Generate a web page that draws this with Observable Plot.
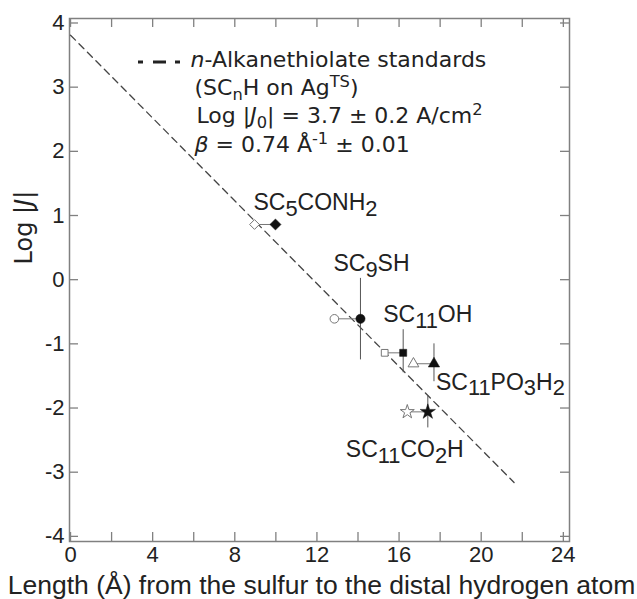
<!DOCTYPE html>
<html><head><meta charset="utf-8">
<script src="https://cdn.jsdelivr.net/npm/d3@7"></script>
<script src="https://cdn.jsdelivr.net/npm/@observablehq/plot@0.6"></script>
<style>
  html,body{margin:0;padding:0;background:#fff;}
  #chart svg{font-family:"Liberation Sans",Arial,Helvetica,sans-serif;background:#fff;}
</style>
</head><body><div id="chart"></div>
<script>
// ---------------- data ----------------
const compounds = ["SC5CONH2", "SC9SH", "SC11OH", "SC11PO3H2", "SC11CO2H"];
const compoundLabels = ["SC_5CONH_2", "SC_9SH", "SC_{11}OH", "SC_{11}PO_3H_2", "SC_{11}CO_2H"];
const lengthFilled = [9.98, 14.12, 16.2, 17.7, 17.4];   // Å (filled markers)
const lengthOpen = [8.96, 12.85, 15.3, 16.7, 16.4];     // Å (open markers)
const logJ = [0.86, -0.61, -1.14, -1.31, -2.06];
const logJLow = [0.86, -1.25, -1.45, -1.59, -2.31];
const logJHigh = [0.86, 0.02, -0.78, -1.0, -1.81];
const fitLength = [0, 21.6];
const fitLogJ = [3.81, -3.16];
const xTicks = [0, 2, 4, 6, 8, 10, 12, 14, 16, 18, 20, 22, 24];
const xTickLabels = [0, 4, 8, 12, 16, 20, 24];
const yTicks = [-4, -3, -2, -1, 0, 1, 2, 3, 4];
const legendLines = [
  "*n*-Alkanethiolate standards",
  "(SC_nH on Ag^{TS})",
  "Log |*J*_0| = 3.7 ± 0.2 A/cm^2",
  "*β* = 0.74 Å^{-1} ± 0.01"
];
const xLabel = "Length (Å) from the sulfur to the distal hydrogen atom";
const yLabel = "Log |*J*|";

// ---------------- style / layout ----------------
const W = 637, H = 599;
const M = {top: 18, right: 68, bottom: 58, left: 69};
const innerW = W - M.left - M.right, innerH = H - M.top - M.bottom;
const TICK = 9;
const frameColor = "#808080";
const legendFont = '"DejaVu Sans", "Liberation Sans", sans-serif';
const symbolsFilled = ["diamond2", "circle", "square", "triangle", "star"];
const rFilled = [5, 4.6, 4, 4.2, 4.8];
const rOpen = [4.4, 4.3, 3.8, 4.0, 4.4];
const labelDx = [-22, -27, -20, 2, -82];
const labelDy = [-14, -48, -31, 26, 45];
const legendDx = [121, 125, 127, 125];
const legendDy = [48, 76, 104, 133];

const idx = compounds.map((_, i) => i);

const marks = [
  Plot.frame({stroke: frameColor, strokeWidth: 1.5}),
  Plot.tickX(xTicks, {x: d => d, insetTop: innerH - TICK, stroke: frameColor, strokeWidth: 1.3}),
  Plot.tickX(xTicks, {x: d => d, insetBottom: innerH - TICK, stroke: frameColor, strokeWidth: 1.3}),
  Plot.tickY(yTicks, {y: d => d, insetRight: innerW - TICK, stroke: frameColor, strokeWidth: 1.3}),
  Plot.tickY(yTicks, {y: d => d, insetLeft: innerW - TICK, stroke: frameColor, strokeWidth: 1.3}),
  Plot.axisX(xTickLabels, {anchor: "bottom", tickSize: 0, tickPadding: 5, fontSize: 22, label: null, tickFormat: d => String(d), fill: "#222"}),
  Plot.axisY(yTicks, {anchor: "left", tickSize: 0, tickPadding: 5, fontSize: 22, label: null, tickFormat: d => String(d), fill: "#222"}),
  // fit line
  Plot.line([0, 1], {x: i => fitLength[i], y: i => fitLogJ[i], stroke: "#444", strokeWidth: 1.3, strokeDasharray: "7,5"}),
  // error bars
  Plot.ruleX(idx, {x: i => lengthFilled[i], y1: i => logJLow[i], y2: i => logJHigh[i], stroke: "#555", strokeWidth: 1}),
  // connectors
  Plot.link(idx, {x1: i => lengthOpen[i], x2: i => lengthFilled[i], y1: i => logJ[i], y2: i => logJ[i], stroke: "#777", strokeWidth: 1}),
  ...idx.map(i => Plot.dot([i], {x: j => lengthOpen[j], y: j => logJ[j], symbol: symbolsFilled[i], r: rOpen[i], fill: "white", stroke: "#777", strokeWidth: 1})),
  ...idx.map(i => Plot.dot([i], {x: j => lengthFilled[j], y: j => logJ[j], symbol: symbolsFilled[i], r: rFilled[i], fill: "#111", stroke: "#111", strokeWidth: 0.5})),
  ...idx.map(i => Plot.text([i], {x: j => lengthFilled[j], y: j => logJ[j], text: j => compoundLabels[j], dx: labelDx[i], dy: labelDy[i], textAnchor: "start", lineAnchor: "bottom", fontSize: 23, fill: "#222"})),
  // legend sample of the dashed line
  (index, scales, values, dims) => {
    const g = d3.create("svg:g");
    g.append("line")
      .attr("x1", dims.marginLeft + 69).attr("x2", dims.marginLeft + 111)
      .attr("y1", dims.marginTop + 44).attr("y2", dims.marginTop + 44)
      .attr("stroke", "#222").attr("stroke-width", 2.8)
      .attr("stroke-dasharray", "5,10,13,9,5,40");
    return g.node();
  },
  ...legendLines.map((t, i) => Plot.text([t], {text: d => d, frameAnchor: "top-left", dx: legendDx[i], dy: legendDy[i], textAnchor: "start", lineAnchor: "bottom", fontSize: 22, fontFamily: legendFont, fill: "#222"})),
  // axis labels
  Plot.text([xLabel], {text: d => d, frameAnchor: "bottom", dx: 2, dy: 52, lineAnchor: "bottom", fontSize: 26.5, fill: "#222"}),
  Plot.text([yLabel], {text: d => d, frameAnchor: "left", dx: -45, dy: -15.5, rotate: -90, fontSize: 24, fontFamily: legendFont, fill: "#222"})
];

const chart = Plot.plot({
  width: W, height: H,
  marginTop: M.top, marginRight: M.right, marginBottom: M.bottom, marginLeft: M.left,
  x: {domain: [-0.05, 24.3], axis: null},
  y: {domain: [-4.08, 4.07], axis: null},
  style: {fontFamily: '"Liberation Sans", Arial, sans-serif', background: "#fff", overflow: "visible"},
  marks
});
document.getElementById("chart").appendChild(chart);

// ---------------- rich text (sub/sup/italic) ----------------
function parseRich(s) {
  const out = []; let italic = false; let buf = "";
  const push = (t, mode) => { if (t) out.push({t, mode, italic}); };
  for (let i = 0; i < s.length; i++) {
    const c = s[i];
    if (c === "*") { push(buf, "n"); buf = ""; italic = !italic; }
    else if (c === "_" || c === "^") {
      push(buf, "n"); buf = "";
      let t;
      if (s[i + 1] === "{") { const j = s.indexOf("}", i + 2); t = s.slice(i + 2, j); i = j; }
      else { t = s[i + 1]; i++; }
      push(t, c === "_" ? "sub" : "sup");
    } else buf += c;
  }
  push(buf, "n");
  return out;
}
function applyRich(el) {
  const s = el.textContent;
  if (!/[_^*]/.test(s)) return;
  const fs = parseFloat(getComputedStyle(el).fontSize) || 20;
  const big = fs >= 22.5;
  const scale = big ? 0.95 : 0.74;
  const subShift = 0.25, supShift = big ? 0.4 : 0.33;
  el.textContent = "";
  let cur = 0;
  for (const p of parseRich(s)) {
    const ts = document.createElementNS("http://www.w3.org/2000/svg", "tspan");
    const target = p.mode === "sub" ? fs * subShift : p.mode === "sup" ? -fs * supShift : 0;
    if (target !== cur) ts.setAttribute("dy", target - cur);
    cur = target;
    if (p.mode !== "n") ts.setAttribute("font-size", fs * scale);
    if (p.italic) ts.setAttribute("font-style", "italic");
    ts.textContent = p.t;
    el.appendChild(ts);
  }
}
chart.querySelectorAll("text").forEach(applyRich);
</script>
</body></html>
